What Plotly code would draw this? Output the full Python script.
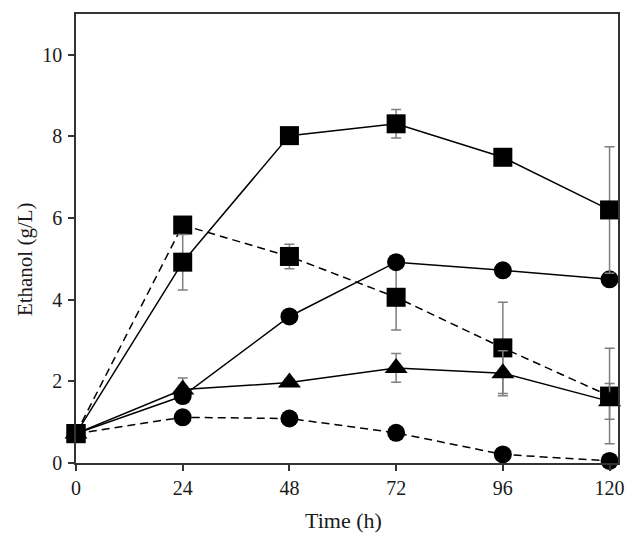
import plotly.graph_objects as go

time_h = [0, 24, 48, 72, 96, 120]

sq_solid = [0.72, 4.92, 8.02, 8.31, 7.49, 6.20]
sq_solid_err = [0, 0.68, 0, 0.35, 0, 1.55]

sq_dash = [0.72, 5.83, 5.06, 4.06, 2.82, 1.64]
sq_dash_err = [0, 0, 0.30, 0.80, 1.12, 1.17]

ci_solid = [0.72, 1.64, 3.59, 4.92, 4.72, 4.50]
ci_solid_err = [0, 0, 0, 0, 0, 0]

tri_solid = [0.72, 1.80, 1.97, 2.33, 2.20, 1.51]
tri_solid_err = [0, 0.28, 0.08, 0.35, 0.55, 0.44]

ci_dash = [0.72, 1.12, 1.09, 0.74, 0.21, 0.05]
ci_dash_err = [0, 0, 0, 0, 0, 0]

x_ticks = [0, 24, 48, 72, 96, 120]
y_ticks = [0, 2, 4, 6, 8, 10]

x_title = "Time (h)"
y_title = "Ethanol (g/L)"

series = [
    ("Series 5", ci_dash, ci_dash_err, "circle", 18, "dash"),
    ("Series 2", sq_dash, sq_dash_err, "square", 19, "dash"),
    ("Series 4", tri_solid, tri_solid_err, "triangle-up", 20, "solid"),
    ("Series 3", ci_solid, ci_solid_err, "circle", 18, "solid"),
    ("Series 1", sq_solid, sq_solid_err, "square", 19, "solid"),
]

FONT = "Liberation Serif"
TXT = "#1a1a1a"

fig = go.Figure()
for name, ys, errs, sym, size, dash in series:
    fig.add_trace(go.Scatter(
        x=time_h, y=ys, name=name, mode="lines+markers",
        line=dict(color="black", width=1.5, dash="8px,5px" if dash == "dash" else "solid"),
        marker=dict(symbol=sym, size=size, color="black"),
        error_y=dict(type="data", array=errs, visible=True, color="#7f7f7f", thickness=1.5, width=5),
        cliponaxis=False, showlegend=False,
    ))

axis_common = dict(
    showline=True, linecolor="#333333", linewidth=1.5, mirror=True,
    ticks="outside", ticklen=6, tickwidth=1.5, tickcolor="#333333",
    showgrid=False, zeroline=False, automargin=False,
    tickfont=dict(family=FONT, size=20, color=TXT),
)

fig.update_xaxes(range=[0, 121.9], tickvals=x_ticks, **axis_common)
fig.update_yaxes(range=[0, 11.0], tickvals=y_ticks, ticklabelstandoff=2, **axis_common)

fig.add_annotation(text=x_title, xref="paper", yref="paper", x=0.4935, y=-0.127,
                   xanchor="center", yanchor="middle", showarrow=False,
                   font=dict(family=FONT, size=22, color=TXT))
fig.add_annotation(text=y_title, xref="paper", yref="paper", x=-0.095, y=0.453,
                   xanchor="center", yanchor="middle", textangle=-90, showarrow=False,
                   font=dict(family=FONT, size=21, color=TXT))

# page body has an 8px default margin, so the figure is sized to fit the window
fig.update_layout(
    width=630, height=535,
    margin=dict(l=68, r=20, t=6, b=80),
    plot_bgcolor="white", paper_bgcolor="white",
)

fig.write_html("out.html")
